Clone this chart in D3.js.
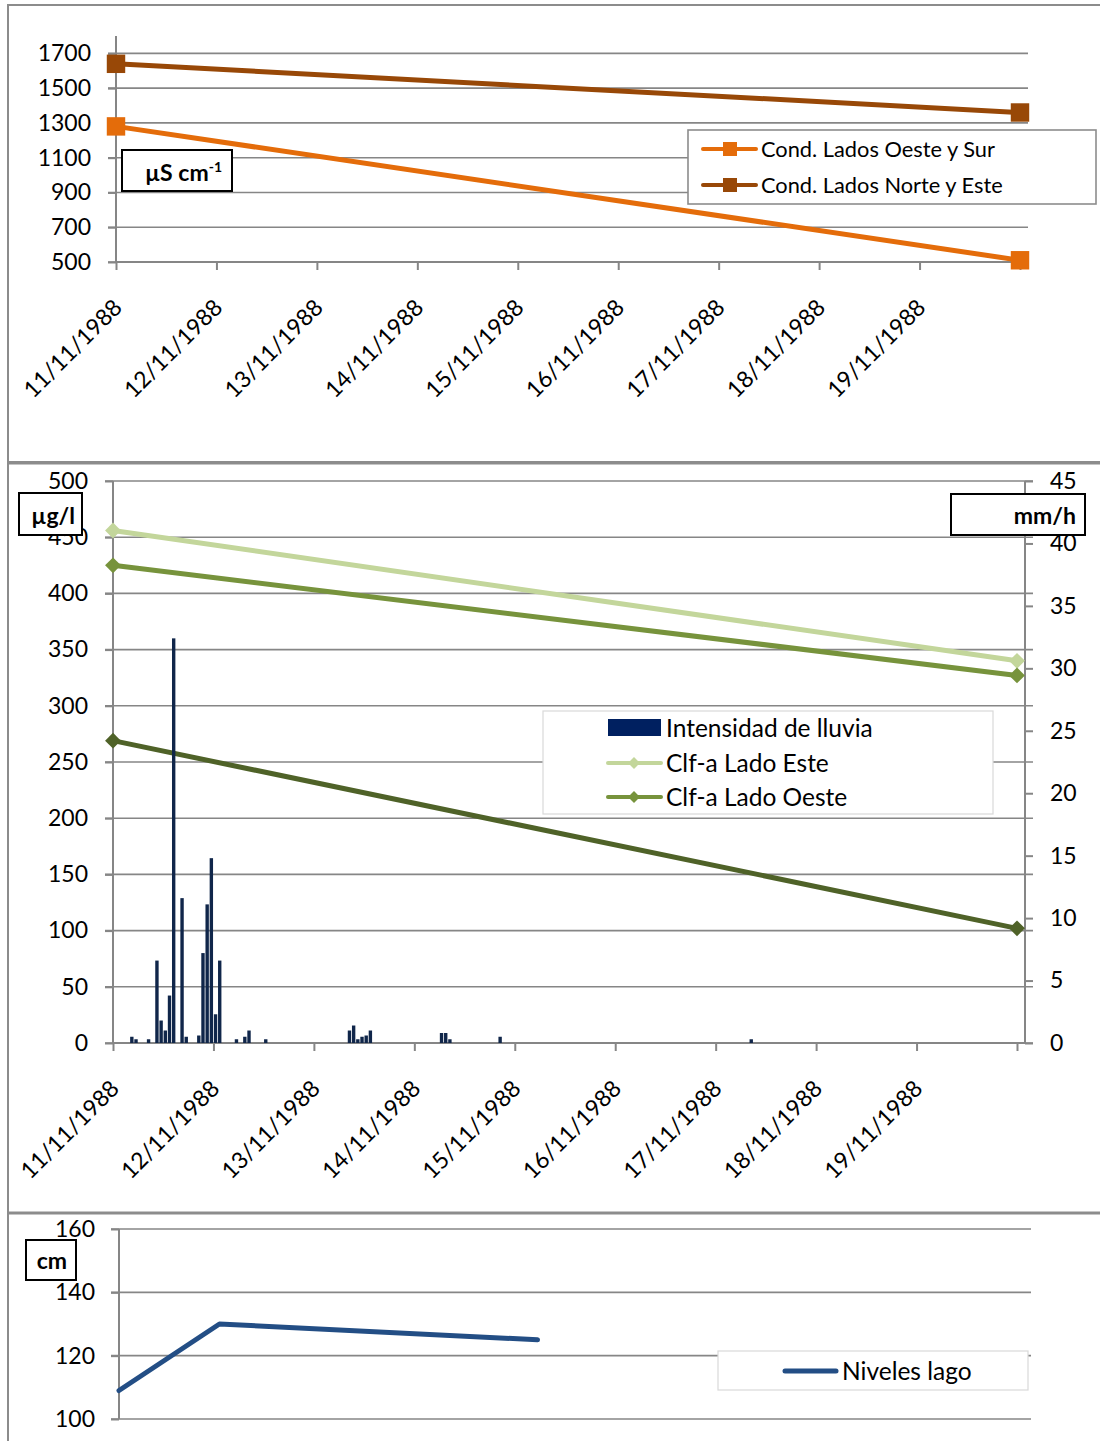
<!DOCTYPE html>
<html>
<head>
<meta charset="utf-8">
<script src="https://cdn.jsdelivr.net/npm/d3@7"></script>
<style>
  html, body { margin: 0; padding: 0; background: #fff; }
  svg { display: block; font-family: Lato, "Open Sans", "Liberation Sans", sans-serif; }
</style>
</head>
<body>
<svg id="chart" width="1100" height="1441"></svg>
<script>
// ---- Eje de fechas común ----
const diasEje = ["1988-11-11 00:00", "1988-11-12 00:00", "1988-11-13 00:00", "1988-11-14 00:00",
                 "1988-11-15 00:00", "1988-11-16 00:00", "1988-11-17 00:00", "1988-11-18 00:00",
                 "1988-11-19 00:00", "1988-11-20 00:00"];
const etiquetasDias = ["11/11/1988", "12/11/1988", "13/11/1988", "14/11/1988", "15/11/1988",
                       "16/11/1988", "17/11/1988", "18/11/1988", "19/11/1988"];

// ---- Conductividad (µS cm-1) ----
const fechasCond = ["1988-11-11 00:00", "1988-11-20 00:00"];
const condOesteSur = [1280, 510];
const condNorteEste = [1640, 1360];
const ticksCond = [500, 700, 900, 1100, 1300, 1500, 1700];

// ---- Clorofila a (µg/l) ----
const fechasClf = ["1988-11-11 00:00", "1988-11-20 00:00"];
const clfEste = [456, 340];
const clfOeste = [425, 327];
const clfSerie3 = [269, 102];
const ticksClf = [0, 50, 100, 150, 200, 250, 300, 350, 400, 450, 500];

// ---- Intensidad de lluvia (mm/h), hora desde el 11/11/1988 00:00 ----
const horasLluvia = [4, 5, 8, 10, 11, 12, 13, 14, 16, 17, 20, 21, 22, 23, 24, 25, 29, 31, 32, 36,
                     56, 57, 58, 59, 60, 61, 78, 79, 80, 92, 152];
const intensidadLluvia = [0.5, 0.3, 0.3, 6.6, 1.8, 1.0, 3.8, 32.4, 11.6, 0.5, 0.6, 7.2, 11.1, 14.8, 2.3, 6.6,
                          0.3, 0.5, 1.0, 0.3, 1.0, 1.4, 0.3, 0.5, 0.6, 1.0, 0.8, 0.8, 0.3, 0.5, 0.3];
const ticksLluvia = [0, 5, 10, 15, 20, 25, 30, 35, 40, 45];

// ---- Niveles del lago (cm) ----
const fechasNivel = ["1988-11-11 00:00", "1988-11-12 00:00", "1988-11-15 04:00"];
const nivelesLago = [109, 130, 125];
const ticksNivel = [100, 120, 140, 160];

// ---- Estilo ----
const GRIS = "#868686";
const MARCO = "#8c8c8c";
const C_OESTE_SUR = "#E46C0A";
const C_NORTE_ESTE = "#984807";
const C_CLF_ESTE = "#C3D69B";
const C_CLF_OESTE = "#77933C";
const C_CLF_3 = "#4F6228";
const C_LLUVIA = "#10264A";
const C_LLUVIA_LEY = "#002060";
const C_NIVEL = "#234E85";
const FS_EJE = 23;

const parse = d3.utcParse("%Y-%m-%d %H:%M");
const svg = d3.select("#chart");
svg.append("rect").attr("width", 1100).attr("height", 1441).attr("fill", "#fff");

// Marcos de los tres paneles
[[8, 5, 1110, 462], [8, 463.5, 1110, 1212.5], [8, 1213.5, 1110, 1470]].forEach(([x0, y0, x1, y1]) => {
  svg.append("rect").attr("x", x0).attr("y", y0).attr("width", x1 - x0).attr("height", y1 - y0)
    .attr("fill", "none").attr("stroke", MARCO).attr("stroke-width", 2);
});

function limpiarEje(g) {
  g.attr("font-family", null).attr("font-size", null);
  g.select(".domain").remove();
  g.selectAll(".tick line").attr("stroke", GRIS).attr("stroke-width", 2);
  g.selectAll(".tick text").attr("fill", "#000").style("font-size", FS_EJE + "px");
}

function gridY(g, y, ticks, x0, x1) {
  g.append("g").selectAll("line").data(ticks).join("line")
    .attr("x1", x0).attr("x2", x1)
    .attr("y1", d => y(d)).attr("y2", d => y(d))
    .attr("stroke", GRIS).attr("stroke-width", 1.6);
}

function ejeIzq(g, y, ticks, xEje, padding) {
  const a = g.append("g").attr("transform", `translate(${xEje},0)`)
    .call(d3.axisLeft(y).tickValues(ticks).tickSize(8).tickPadding(padding).tickFormat(d3.format("d")));
  limpiarEje(a);
  const r = y.range();
  g.append("line").attr("x1", xEje).attr("x2", xEje).attr("y1", r[0]).attr("y2", r[1])
    .attr("stroke", GRIS).attr("stroke-width", 2);
}

function ejeFechas(g, x, yEje, xFin) {
  const a = g.append("g").attr("transform", `translate(0,${yEje})`)
    .call(d3.axisBottom(x).tickValues(diasEje.map(parse)).tickSize(8)
      .tickFormat((d, i) => etiquetasDias[i] || ""));
  limpiarEje(a);
  a.selectAll(".tick text")
    .attr("x", 0).attr("y", 0).attr("dy", 0)
    .attr("text-anchor", "end")
    .attr("transform", "translate(7,47) rotate(-45)");
  g.append("line").attr("x1", x.range()[0]).attr("x2", xFin).attr("y1", yEje).attr("y2", yEje)
    .attr("stroke", GRIS).attr("stroke-width", 2);
}

function linea(g, x, y, fechas, valores, color, ancho) {
  const pts = fechas.map((f, i) => [x(parse(f)), y(valores[i])]);
  g.append("path").attr("d", d3.line()(pts)).attr("fill", "none")
    .attr("stroke", color).attr("stroke-width", ancho).attr("stroke-linecap", "round")
    .attr("stroke-linejoin", "round");
  return pts;
}

function marcadores(g, pts, simbolo, tam, color) {
  g.append("g").selectAll("path").data(pts).join("path")
    .attr("transform", d => `translate(${d[0]},${d[1]})`)
    .attr("d", d3.symbol().type(simbolo).size(tam))
    .attr("fill", color);
}

function cajaUnidad(g, x, y, w, h, xTexto, yTexto, texto, sup) {
  g.append("rect").attr("x", x).attr("y", y).attr("width", w).attr("height", h)
    .attr("fill", "#fff").attr("stroke", "#000").attr("stroke-width", 2);
  const t = g.append("text").attr("x", xTexto).attr("y", yTexto).attr("text-anchor", "end")
    .attr("font-weight", "bold").style("font-size", "23px").attr("fill", "#000").text(texto);
  if (sup) t.append("tspan").attr("dy", -9).style("font-size", "14px").text(sup);
}

// =================== Panel 1: conductividad ===================
{
  const g = svg.append("g");
  const x = d3.scaleUtc().domain([parse(diasEje[0]), parse(diasEje[9])]).range([116, 1020]);
  const y = d3.scaleLinear().domain([500, 1800]).range([262, 36]);
  gridY(g, y, ticksCond, 108, 1028);
  ejeIzq(g, y, ticksCond, 116, 17);
  ejeFechas(g, x, 262, 1028);

  const p1 = linea(g, x, y, fechasCond, condOesteSur, C_OESTE_SUR, 5);
  const p2 = linea(g, x, y, fechasCond, condNorteEste, C_NORTE_ESTE, 5);
  marcadores(g, p1, d3.symbolSquare, 340, C_OESTE_SUR);
  marcadores(g, p2, d3.symbolSquare, 340, C_NORTE_ESTE);

  cajaUnidad(g, 122, 150, 110, 41, 222, 181, "µS cm", "-1");

  // Leyenda
  const ley = g.append("g");
  ley.append("rect").attr("x", 688).attr("y", 130).attr("width", 408).attr("height", 74)
    .attr("fill", "#fff").attr("stroke", MARCO).attr("stroke-width", 1.6);
  [["Cond. Lados Oeste y Sur", C_OESTE_SUR, 149], ["Cond. Lados Norte y Este", C_NORTE_ESTE, 185]]
    .forEach(([nombre, color, yy]) => {
      ley.append("line").attr("x1", 703).attr("x2", 756).attr("y1", yy).attr("y2", yy)
        .attr("stroke", color).attr("stroke-width", 4).attr("stroke-linecap", "round");
      ley.append("rect").attr("x", 730 - 7).attr("y", yy - 7).attr("width", 14).attr("height", 14).attr("fill", color);
      ley.append("text").attr("x", 761).attr("y", yy).attr("dy", "0.35em")
        .style("font-size", "21.8px").attr("fill", "#000").text(nombre);
    });
}

// =================== Panel 2: clorofila y lluvia ===================
{
  const g = svg.append("g");
  const x = d3.scaleUtc().domain([parse(diasEje[0]), parse(diasEje[9])]).range([113, 1017]);
  const y = d3.scaleLinear().domain([0, 500]).range([1043, 481]);
  const yR = d3.scaleLinear().domain([0, 45]).range([1043, 481]);
  gridY(g, y, ticksClf, 105, 1033);
  ejeIzq(g, y, ticksClf, 113, 17);

  // Eje secundario (mm/h)
  const aR = g.append("g").attr("transform", "translate(1025,0)")
    .call(d3.axisRight(yR).tickValues(ticksLluvia).tickSize(8).tickPadding(17));
  limpiarEje(aR);
  g.append("line").attr("x1", 1025).attr("x2", 1025).attr("y1", 1043).attr("y2", 481)
    .attr("stroke", GRIS).attr("stroke-width", 2);

  ejeFechas(g, x, 1043, 1025);

  const base = parse(diasEje[0]);
  const pe = linea(g, x, y, fechasClf, clfEste, C_CLF_ESTE, 5);
  const po = linea(g, x, y, fechasClf, clfOeste, C_CLF_OESTE, 5);
  const p3 = linea(g, x, y, fechasClf, clfSerie3, C_CLF_3, 5);
  marcadores(g, pe, d3.symbolDiamond2, 160, C_CLF_ESTE);
  marcadores(g, po, d3.symbolDiamond2, 160, C_CLF_OESTE);
  marcadores(g, p3, d3.symbolDiamond2, 160, C_CLF_3);

  // Barras de intensidad de lluvia (una por hora)
  g.append("g").selectAll("rect").data(horasLluvia.map((h, i) => ({ h, v: intensidadLluvia[i] })))
    .join("rect")
    .attr("x", d => x(d3.utcHour.offset(base, d.h)) + 0.4)
    .attr("width", d => x(d3.utcHour.offset(base, d.h + 1)) - x(d3.utcHour.offset(base, d.h)) - 0.8)
    .attr("y", d => yR(d.v))
    .attr("height", d => yR(0) - yR(d.v))
    .attr("fill", C_LLUVIA);

  cajaUnidad(g, 19, 493, 63, 42, 75, 524, "µg/l");
  cajaUnidad(g, 951, 494, 134, 41, 1076, 524, "mm/h");

  // Leyenda
  const ley = g.append("g");
  ley.append("rect").attr("x", 543).attr("y", 711).attr("width", 450).attr("height", 103)
    .attr("fill", "#fff").attr("stroke", "#D9D9D9").attr("stroke-width", 1.2);
  ley.append("rect").attr("x", 608).attr("y", 719).attr("width", 53).attr("height", 17).attr("fill", C_LLUVIA_LEY);
  ley.append("text").attr("x", 666).attr("y", 728).attr("dy", "0.35em")
    .style("font-size", "24.5px").attr("fill", "#000").text("Intensidad de lluvia");
  [["Clf-a Lado Este", C_CLF_ESTE, 763], ["Clf-a Lado Oeste", C_CLF_OESTE, 797]].forEach(([nombre, color, yy]) => {
    ley.append("line").attr("x1", 608).attr("x2", 661).attr("y1", yy).attr("y2", yy)
      .attr("stroke", color).attr("stroke-width", 4).attr("stroke-linecap", "round");
    ley.append("path").attr("transform", `translate(634,${yy})`)
      .attr("d", d3.symbol().type(d3.symbolDiamond2).size(90)).attr("fill", color);
    ley.append("text").attr("x", 666).attr("y", yy).attr("dy", "0.35em")
      .style("font-size", "24.5px").attr("fill", "#000").text(nombre);
  });
}

// =================== Panel 3: niveles del lago ===================
{
  const g = svg.append("g");
  const x = d3.scaleUtc().domain([parse(diasEje[0]), parse(diasEje[9])]).range([119, 1023]);
  const y = d3.scaleLinear().domain([100, 160]).range([1419, 1229]);
  gridY(g, y, ticksNivel, 111, 1031);
  ejeIzq(g, y, ticksNivel, 119, 16);

  linea(g, x, y, fechasNivel, nivelesLago, C_NIVEL, 5);

  cajaUnidad(g, 26, 1240, 50, 40, 67, 1269, "cm");

  const ley = g.append("g");
  ley.append("rect").attr("x", 718).attr("y", 1351).attr("width", 310).attr("height", 39)
    .attr("fill", "#fff").attr("stroke", "#D9D9D9").attr("stroke-width", 1.2);
  ley.append("line").attr("x1", 785).attr("x2", 836).attr("y1", 1371).attr("y2", 1371)
    .attr("stroke", C_NIVEL).attr("stroke-width", 5).attr("stroke-linecap", "round");
  ley.append("text").attr("x", 842).attr("y", 1371).attr("dy", "0.35em")
    .style("font-size", "24.5px").attr("fill", "#000").text("Niveles lago");
}
</script>
</body>
</html>
